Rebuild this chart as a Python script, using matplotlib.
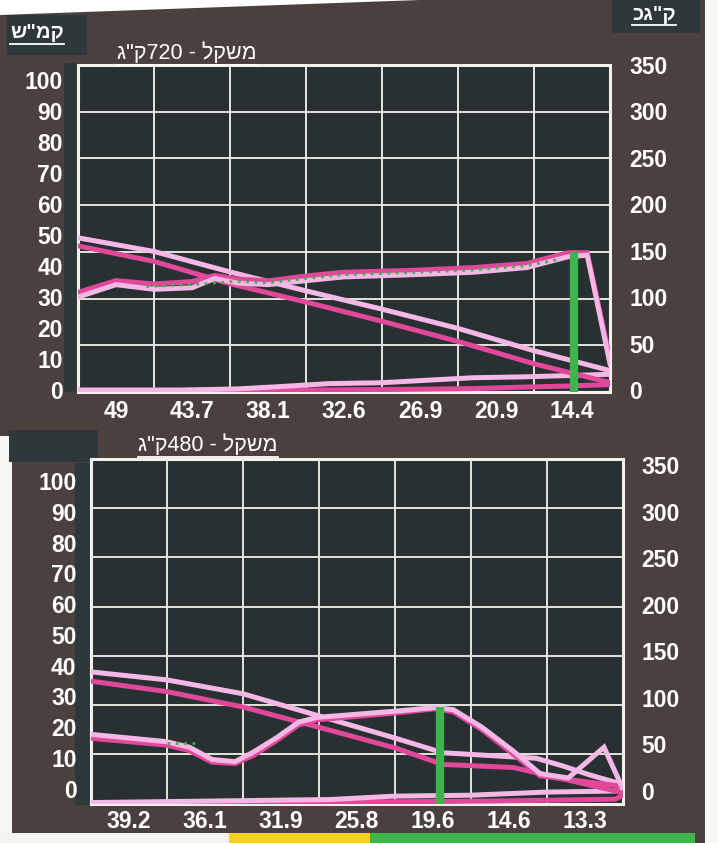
import numpy as np
import matplotlib
matplotlib.use('Agg')
import matplotlib.pyplot as plt
from matplotlib.patches import Rectangle, Polygon
from matplotlib.lines import Line2D

plt.rcParams['font.family'] = ['Liberation Sans', 'DejaVu Sans']

# ---- data (left axis units, x in category slots 0..7) ----
top_xlabels = ['49', '43.7', '38.1', '32.6', '26.9', '20.9', '14.4']
top_desc_x = [0, 1, 2, 3, 4, 5, 6, 7]
top_desc_pink = [49.1, 44.7, 38.1, 32.0, 26.1, 19.9, 12.7, 6.3]
top_desc_mag = [46.5, 41.5, 34.3, 28.4, 22.2, 15.7, 8.5, 2.4]
top_rise_x = [0, 0.5, 1.0, 1.5, 1.8, 2.1, 2.5, 3.0, 3.5, 4.4, 5.2, 5.9, 6.45, 6.7, 7.0]
top_rise_mag = [31.5, 35.3, 34.2, 35.0, 37.0, 35.8, 35.2, 36.8, 38.0, 38.6, 39.5, 40.8, 44.3, 44.3, 10.0]
top_rise_pink = [30.0, 34.0, 32.5, 33.0, 36.0, 34.5, 34.0, 35.3, 36.5, 37.2, 38.0, 39.5, 43.0, 43.5, 8.5]
top_dots_x = [0.9, 1.5, 2.1, 2.5, 3.0, 3.5, 4.4, 5.2, 5.9, 6.3]
top_dots_y = [33.4, 34.0, 35.1, 34.6, 36.0, 37.2, 37.9, 38.7, 40.1, 42.0]
top_low_pink_x = [0, 1.35, 2.1, 2.7, 3.3, 4.0, 5.2, 5.9, 7.0]
top_low_pink = [0, 0, 0.4, 1.2, 2.1, 2.4, 4.0, 4.3, 5.1]
top_low_mag_x = [0, 3.0, 4.5, 5.2, 5.9, 6.4, 7.0]
top_low_mag = [0, 0, 0.3, 0.5, 1.0, 1.3, 1.8]
top_bar_x = 6.53
top_bar_top = 44.6

bot_xlabels = ['39.2', '36.1', '31.9', '25.8', '19.6', '14.6', '13.3']
bot_desc_pink_x = [0, 1, 2, 3, 4, 4.63, 5.86, 6.21, 6.56, 7]
bot_desc_pink = [38.0, 35.4, 30.9, 23.7, 16.5, 11.7, 9.9, 7.4, 4.5, 1.4]
bot_desc_mag_x = [0, 1, 2, 3, 4, 4.63, 5.56, 6.21, 7]
bot_desc_mag = [35.0, 31.6, 26.6, 20.0, 13.3, 7.9, 6.9, 3.2, -1.3]
bot_rise_x = [0, 1.0, 1.3, 1.6, 1.9, 2.14, 2.44, 2.74, 2.98, 4.0, 4.53, 4.77,
              5.14, 5.56, 5.91, 6.28, 6.75, 6.99]
bot_rise_pink = [17.7, 15.3, 13.5, 9.5, 8.8, 11.9, 16.5, 21.7, 23.2, 25.2, 26.4, 25.7,
                 20.1, 12.2, 4.9, 3.5, 13.5, 0.4]
bot_rise_mag_x = [0, 1.0, 1.3, 1.6, 1.9, 2.14, 2.44, 2.74, 2.98, 4.0, 4.53, 4.77,
                  5.14, 5.56, 5.91, 6.28, 6.99]
bot_rise_mag = [16.4, 14.2, 12.4, 8.6, 8.2, 10.8, 15.6, 20.8, 22.4, 24.6, 26.0, 25.0,
                19.3, 11.2, 4.2, 3.0, 0.8]
bot_dots_x = [1.0, 1.4]
bot_dots_y = [15.0, 15.0]
bot_low_pink_x = [0, 1.6, 3.16, 4.0, 5.0, 5.98, 6.99]
bot_low_pink = [-4.5, -4.0, -3.5, -2.4, -2.1, -1.1, -0.7]
bot_low_mag_x = [0, 3.6, 5.3, 6.9, 7.0]
bot_low_mag = [-4.6, -4.3, -4.0, -3.4, -2.0]
bot_bar_x = 4.6
bot_bar_top = 26.6

left_ticks = list(range(0, 101, 10))
right_ticks = list(range(0, 351, 50))

# ---- styling ----
W, H = 717, 843
BG = '#4a413e'
PLOT = '#283032'
BOX = '#2e3739'
GRID = '#f2f2ea'
PINK = '#f5b8e6'
MAG = '#e2489a'
GREEN = '#3db54a'
TICK_FS = 16.5
LW = 3.6

fig = plt.figure(figsize=(W / 100, H / 100), dpi=100, facecolor=BG)


def px(x, y, w, h):
    return [x / W, 1 - (y + h) / H, w / W, h / H]


def rect(x, y, w, h, color):
    fig.add_artist(Rectangle((x / W, 1 - (y + h) / H), w / W, h / H,
                             transform=fig.transFigure, color=color, lw=0, zorder=-1))


def draw_panel(box, left_lim, right_lim, xlabels, lines, dots, bar_x, bar_top,
               lpad, rpad, xpad):
    l, t, r, b = box
    axg = fig.add_axes(px(l, t, r - l, b - t))
    axg.set_facecolor(PLOT)
    axg.set_xlim(0, 7)
    axg.set_ylim(0, 350)
    axg.set_xticks(range(8))
    axg.set_yticks(right_ticks)
    axg.grid(True, color=GRID, lw=1.3)
    axg.tick_params(length=0, labelleft=False, labelbottom=False)
    axg.set_xticks(np.arange(7) + 0.5, minor=True)
    axg.set_xticklabels(xlabels, minor=True, fontweight='bold', fontsize=TICK_FS, color='white')
    axg.tick_params(which='minor', length=0, pad=xpad)
    for s in axg.spines.values():
        s.set_color(GRID)
        s.set_linewidth(2.2)

    axl = axg.twinx()
    axl.set_ylim(*left_lim)
    axl.yaxis.tick_left()
    axl.set_yticks(left_ticks, [str(v) for v in left_ticks], fontweight='bold',
                   fontsize=TICK_FS, color='white')
    axl.tick_params(length=0, pad=lpad)

    axr = axg.twinx()
    axr.set_ylim(*right_lim)
    axr.set_yticks(right_ticks, [str(v) for v in right_ticks], fontweight='bold',
                   fontsize=TICK_FS, color='white')
    axr.tick_params(length=0, pad=rpad)
    for a in (axl, axr):
        for s in a.spines.values():
            s.set_visible(False)

    for x, y, c in lines:
        axl.plot(x, y, color=c, lw=LW, solid_joinstyle='miter', zorder=3)
    axl.plot(dots[0], dots[1], color=GREEN, lw=2, ls=(0, (1, 2)), zorder=4)
    axl.vlines(bar_x, left_lim[0], bar_top, color=GREEN, lw=6, zorder=5)
    return axg


# scan edges and label boxes
fig.add_artist(Polygon([(0, 1), (0, 1 - 15 / H), (420 / W, 1)], closed=True,
                       transform=fig.transFigure, color='white', lw=0, zorder=-1))
rect(705, 0, 12, H, '#f7f7f4')
rect(0, 436, 12, H - 436, '#f7f7f4')
rect(0, 833, 229, 10, '#f4f4f0')
rect(229, 833, 141, 10, '#f0d21e')
rect(370, 833, 325, 10, GREEN)
rect(7, 15, 80, 40, BOX)
rect(612, 0, 88, 33, BOX)
rect(9, 430, 89, 32, BOX)
rect(64, 63, 14, 329, BOX)
rect(75, 463, 16, 342, BOX)

top_lines = [
    (top_low_mag_x, top_low_mag, MAG),
    (top_low_pink_x, top_low_pink, PINK),
    (top_desc_x, top_desc_mag, MAG),
    (top_desc_x, top_desc_pink, PINK),
    (top_rise_x, top_rise_mag, MAG),
    (top_rise_x, top_rise_pink, PINK),
]
bot_lines = [
    (bot_low_mag_x, bot_low_mag, MAG),
    (bot_low_pink_x, bot_low_pink, PINK),
    (bot_desc_mag_x, bot_desc_mag, MAG),
    (bot_desc_pink_x, bot_desc_pink, PINK),
    (bot_rise_mag_x, bot_rise_mag, MAG),
    (bot_rise_x, bot_rise_pink, PINK),
]

draw_panel((78, 65, 610, 392), (-0.6, 104.8), (-2, 346), top_xlabels, top_lines,
           (top_dots_x, top_dots_y), top_bar_x, top_bar_top, 11, 14, 5.5)
draw_panel((90.5, 459, 623, 803.5), (-4.8, 107.2), (-14, 357), bot_xlabels, bot_lines,
           (bot_dots_x, bot_dots_y), bot_bar_x, bot_bar_top, 10, 13, 5)

# texts (Hebrew typed in visual order since matplotlib has no bidi)
texts = [
    fig.text(187 / W, 1 - 53 / H, 'ג"ק720 - לקשמ', color='white', fontsize=15.5,
             ha='center', va='center'),
    fig.text(208 / W, 1 - 445 / H, 'ג"ק480 - לקשמ', color='white', fontsize=15.5,
             ha='center', va='center'),
    fig.text(37 / W, 1 - 33 / H, 'ש"מק', color='white', fontsize=14.5, fontweight='bold',
             ha='center', va='center'),
    fig.text(654 / W, 1 - 14 / H, 'כג"ק', color='white', fontsize=14.5, fontweight='bold',
             ha='center', va='center'),
]

fig.canvas.draw()
inv = fig.transFigure.inverted()
for t in texts:
    bb = t.get_window_extent()
    (x0, y0), (x1, _) = inv.transform([(bb.x0, bb.y0 - 1.5), (bb.x1, bb.y0)])
    fig.add_artist(Line2D([x0, x1], [y0, y0], transform=fig.transFigure,
                          color='white', lw=1.3))

fig.savefig('out.png', dpi=100, facecolor=BG)
